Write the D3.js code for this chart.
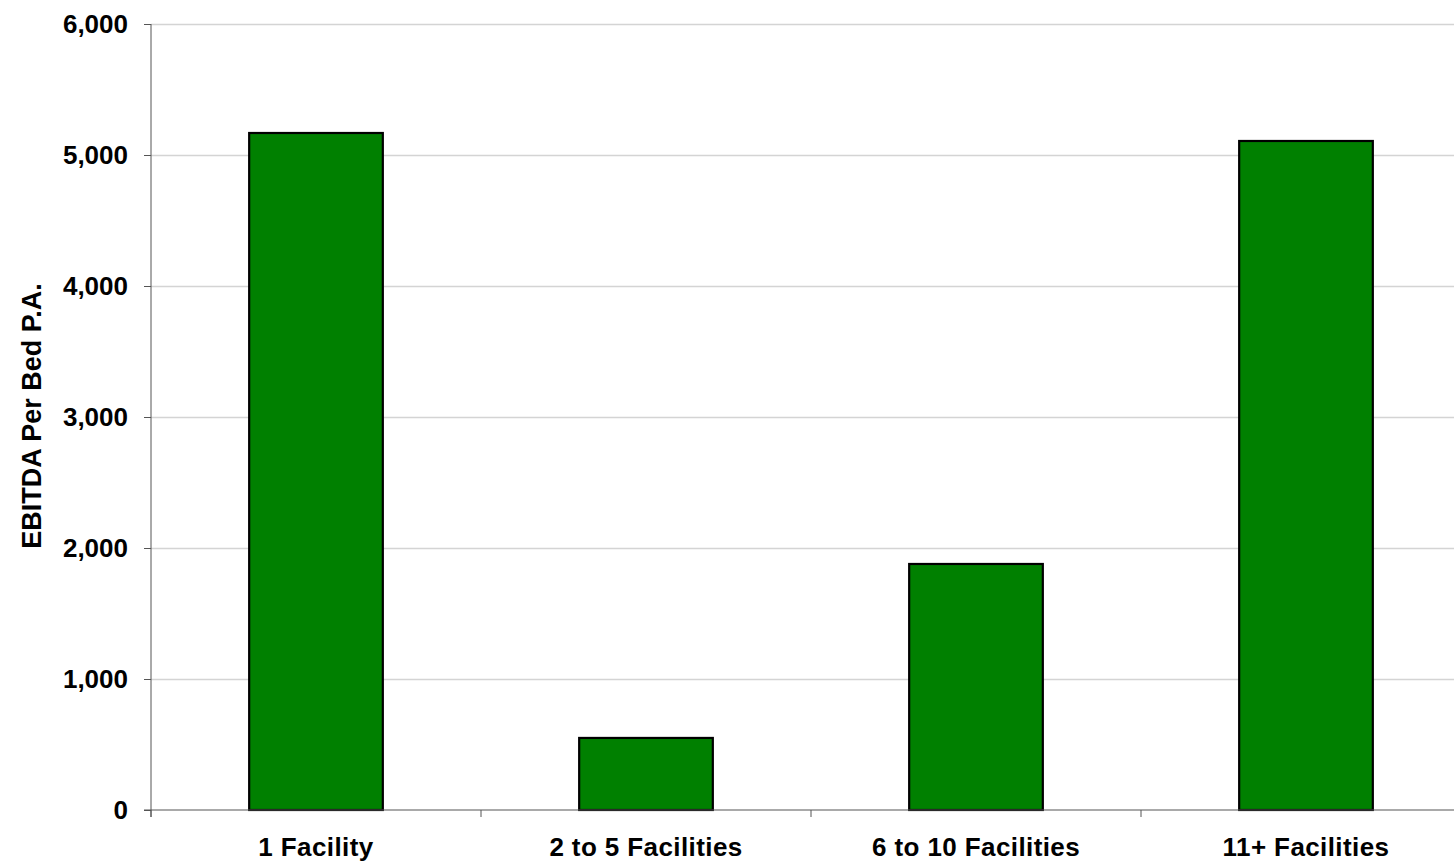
<!DOCTYPE html>
<html><head><meta charset="utf-8">
<script src="https://cdn.jsdelivr.net/npm/d3@7"></script>
<style>
html,body{margin:0;padding:0;background:#fff;overflow:hidden;}
text{font-family:"Liberation Sans",Arial,sans-serif;font-weight:bold;fill:#000;}
</style></head>
<body><svg id="c" width="1454" height="864"></svg>
<script>
const categories = ["1 Facility","2 to 5 Facilities","6 to 10 Facilities","11+ Facilities"];
const values = [5168, 550, 1878, 5107];
const yTicks = [0,1000,2000,3000,4000,5000,6000];
const yTitle = "EBITDA Per Bed P.A.";

const svg = d3.select("#c");
const mLeft = 151, mRight = 1471, mTop = 24, mBottom = 810;
const x = d3.scaleBand().domain(categories).range([mLeft, mRight]).paddingInner(0).paddingOuter(0);
const y = d3.scaleLinear().domain([0, 6000]).range([mBottom, mTop]);

// gridlines
svg.append("g").selectAll("line").data(yTicks.filter(d=>d>0)).join("line")
  .attr("x1", mLeft).attr("x2", 1454).attr("y1", d=>y(d)+0.5).attr("y2", d=>y(d)+0.5)
  .attr("stroke", "#d4d4d4").attr("stroke-width", 1.3);

// bars
const bw = x.bandwidth()*0.405;
svg.append("g").selectAll("rect").data(categories).join("rect")
  .attr("x", d=>x(d)+x.bandwidth()/2-bw/2)
  .attr("y", (d,i)=>y(values[i]))
  .attr("width", bw)
  .attr("height", (d,i)=>y(0)-y(values[i]))
  .attr("fill", "#008000").attr("stroke", "#000").attr("stroke-width", 2.2);

// y axis
const yAxis = svg.append("g").attr("transform", `translate(${mLeft},0)`)
  .call(d3.axisLeft(y).tickValues(yTicks).tickFormat(d3.format(",")).tickSize(7).tickPadding(16));
yAxis.select(".domain").attr("stroke", "#555").attr("d", `M0,${mTop}V${mBottom+7}`);
yAxis.selectAll(".tick line").attr("stroke", "#555");
yAxis.selectAll(".tick text").attr("font-size", 26).attr("dy", "0.33em")
  .style("font-family", '"Liberation Sans",Arial,sans-serif').style("font-weight","bold").attr("fill","#000");

// x axis
const xAxis = svg.append("g").attr("transform", `translate(0,${mBottom})`)
  .call(d3.axisBottom(x).tickSize(0).tickPadding(28));
xAxis.select(".domain").remove();
xAxis.selectAll(".tick text").attr("font-size", 26).attr("letter-spacing", "0.4px")
  .style("font-family", '"Liberation Sans",Arial,sans-serif').style("font-weight","bold").attr("fill","#000");
svg.append("line").attr("x1", mLeft-7).attr("x2", 1454).attr("y1", mBottom).attr("y2", mBottom).attr("stroke", "#555");
svg.append("g").selectAll("line").data(categories).join("line")
  .attr("x1", d=>x(d)).attr("x2", d=>x(d)).attr("y1", mBottom).attr("y2", mBottom+7).attr("stroke", "#555");

// y title
svg.append("text").attr("transform", `translate(41,${416}) rotate(-90)`)
  .attr("text-anchor", "middle").attr("font-size", 27).text(yTitle);
</script></body></html>
